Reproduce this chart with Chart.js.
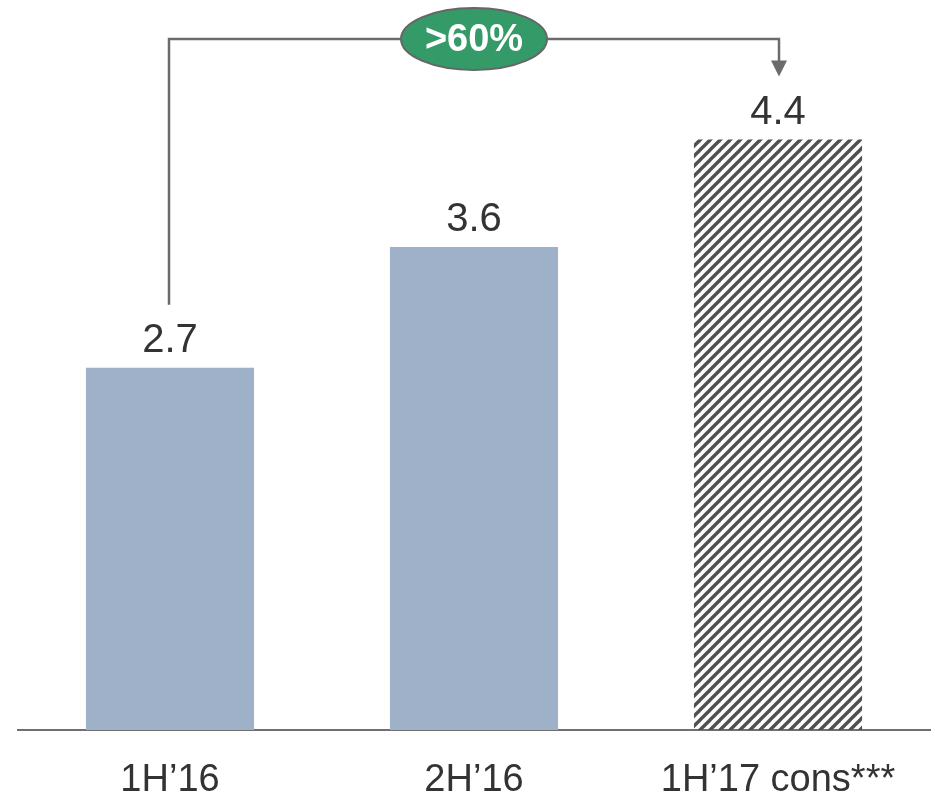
<!DOCTYPE html>
<html>
<head>
<meta charset="utf-8">
<script src="https://cdn.jsdelivr.net/npm/chart.js@4"></script>
<style>
  html, body { margin: 0; padding: 0; background: #fff; }
  #wrap { width: 935px; height: 797px; }
</style>
</head>
<body>
<div id="wrap"><canvas id="barChart"></canvas></div>
<script>
const categories = ['1H\u201916', '2H\u201916', '1H\u201917 cons***'];
const values = [2.7, 3.6, 4.4];
const valueLabels = ['2.7', '3.6', '4.4'];
const growthLabel = '>60%';

const FONT = '"Liberation Sans", Arial, Helvetica, sans-serif';

// diagonal hatch for the consensus bar
function makeHatch() {
  const size = 10;
  const c = document.createElement('canvas');
  c.width = size; c.height = size;
  const g = c.getContext('2d');
  g.strokeStyle = '#505050';
  g.lineWidth = 3.4;
  g.lineCap = 'square';
  [[0, size, size, 0], [-size / 2, size / 2, size / 2, -size / 2], [size / 2, size * 1.5, size * 1.5, size / 2]]
    .forEach(l => { g.beginPath(); g.moveTo(l[0], l[1]); g.lineTo(l[2], l[3]); g.stroke(); });
  return g.createPattern(c, 'repeat');
}

const hatch = makeHatch();
const barColors = ['#9eb1c8', '#9eb1c8', hatch];

const valueLabelPlugin = {
  id: 'valueLabels',
  afterDatasetsDraw(chart) {
    const ctx = chart.ctx;
    const bars = chart.getDatasetMeta(0).data;
    ctx.save();
    ctx.font = '40px ' + FONT;
    ctx.fillStyle = '#333333';
    ctx.textAlign = 'center';
    ctx.textBaseline = 'alphabetic';
    bars.forEach((b, i) => ctx.fillText(valueLabels[i], b.x, b.y - 16));
    ctx.restore();
  }
};

const growthPlugin = {
  id: 'growthArrow',
  afterDraw(chart) {
    const ctx = chart.ctx;
    const bars = chart.getDatasetMeta(0).data;
    const first = bars[0], last = bars[bars.length - 1];
    const lineY = chart.chartArea.top - 20;
    const startY = first.y - 16 - 30 - 17;
    const tipY = last.y - 17 - 28 - 18;
    ctx.save();
    ctx.strokeStyle = '#6b6b6b';
    ctx.fillStyle = '#6b6b6b';
    ctx.lineWidth = 2.5;
    ctx.beginPath();
    ctx.moveTo(first.x - 1, startY);
    ctx.lineTo(first.x - 1, lineY);
    ctx.lineTo(last.x + 1, lineY);
    ctx.lineTo(last.x + 1, tipY - 15);
    ctx.stroke();
    ctx.beginPath();
    ctx.moveTo(last.x + 1 - 8, tipY - 16);
    ctx.lineTo(last.x + 1 + 8, tipY - 16);
    ctx.lineTo(last.x + 1, tipY);
    ctx.closePath();
    ctx.fill();

    // green bubble in the middle of the connector
    const cx = bars[1].x;
    ctx.beginPath();
    ctx.ellipse(cx, lineY, 73, 31, 0, 0, Math.PI * 2);
    ctx.fillStyle = '#349a68';
    ctx.fill();
    ctx.lineWidth = 2;
    ctx.strokeStyle = '#666666';
    ctx.stroke();
    ctx.fillStyle = '#ffffff';
    ctx.font = 'bold 38px ' + FONT;
    ctx.textAlign = 'center';
    ctx.textBaseline = 'middle';
    ctx.fillText(growthLabel, cx, lineY + 2);
    ctx.restore();
  }
};

new Chart(document.getElementById('barChart'), {
  type: 'bar',
  data: {
    labels: categories,
    datasets: [{
      data: values,
      backgroundColor: barColors,
      borderWidth: 0,
      barPercentage: 0.553,
      categoryPercentage: 1
    }]
  },
  options: {
    responsive: true,
    maintainAspectRatio: false,
    animation: false,
    layout: { padding: { top: 59, left: 18, right: 5, bottom: 0 } },
    plugins: {
      legend: { display: false },
      tooltip: { enabled: false }
    },
    scales: {
      x: {
        grid: { display: false, drawTicks: false },
        border: { display: true, color: '#707070', width: 2 },
        ticks: {
          color: '#333333',
          font: { family: FONT, size: 38 },
          padding: 28,
          maxRotation: 0,
          autoSkip: false
        },
        afterFit(scale) { scale.height = 67; }
      },
      y: {
        display: false,
        min: 0,
        max: 5
      }
    }
  },
  plugins: [valueLabelPlugin, growthPlugin]
});
</script>
</body>
</html>
